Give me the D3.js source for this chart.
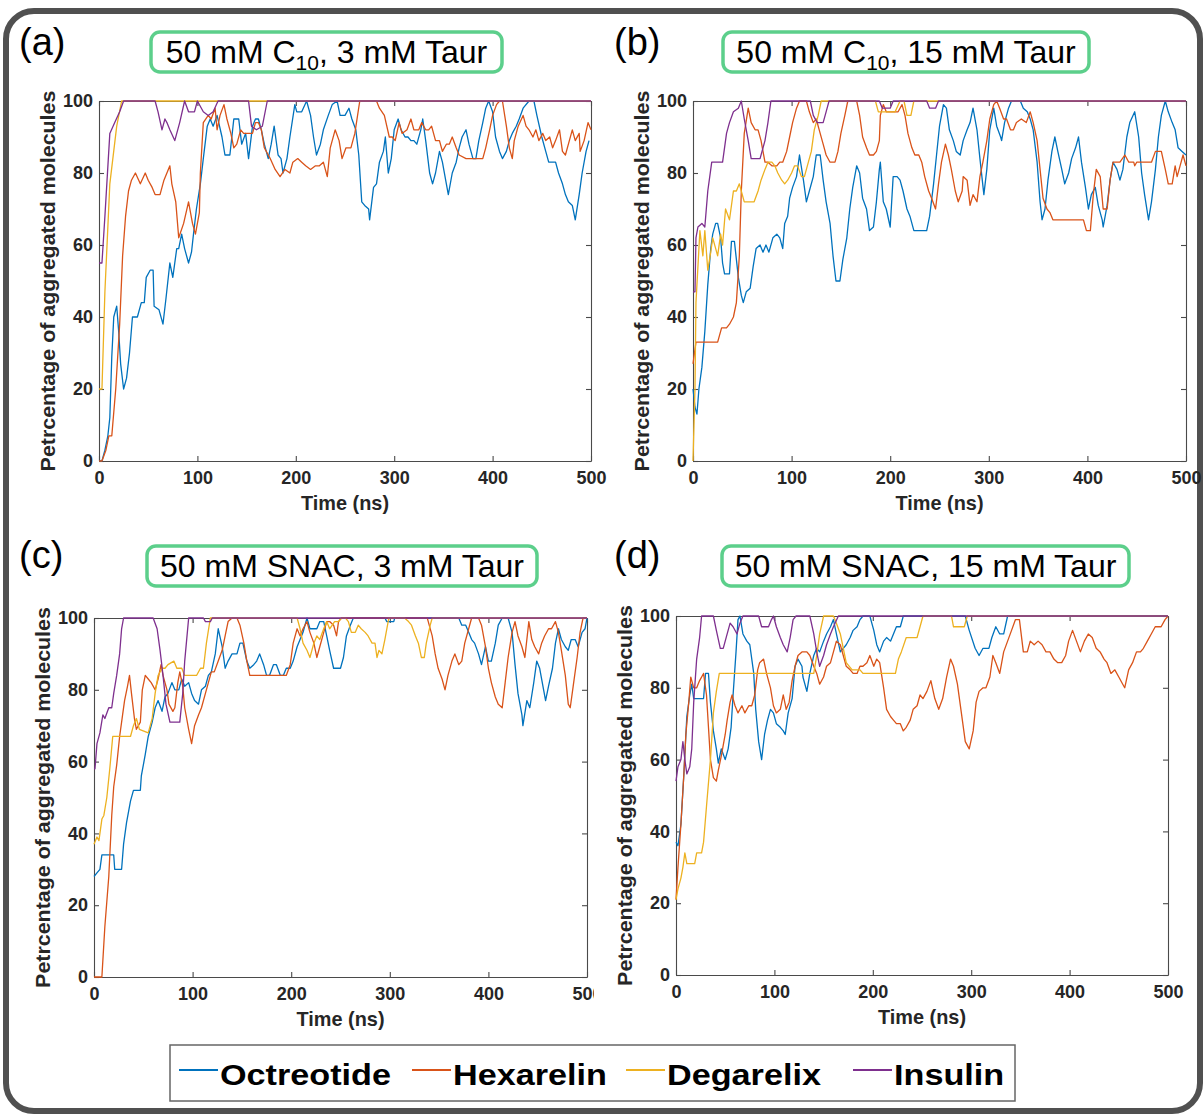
<!DOCTYPE html>
<html>
<head>
<meta charset="utf-8">
<script src="https://cdn.jsdelivr.net/npm/d3@7"></script>
<style>
  body { margin: 0; background: #fff; }
  text { font-family: "Liberation Sans", Arial, Helvetica, sans-serif; }
</style>
</head>
<body>
<svg id="fig" width="1203" height="1115"></svg>
<script>
// series names / colours (MATLAB default order)
var seriesNames = ["Octreotide", "Hexarelin", "Degarelix", "Insulin"];
var seriesColors = ["#0072BD", "#D95319", "#EDB120", "#7E2F8E"];
var xTicks = [0, 100, 200, 300, 400, 500];
var yTicks = [0, 20, 40, 60, 80, 100];
var panelTags = ["(a)", "(b)", "(c)", "(d)"];
var panelTitles = [
    ["50 mM C", "10", ", 3 mM Taur"],
    ["50 mM C", "10", ", 15 mM Taur"],
    ["50 mM SNAC, 3 mM Taur", "", ""],
    ["50 mM SNAC, 15 mM Taur", "", ""]
];
var xLabel = "Time (ns)";
var yLabel = "Petrcentage of aggregated molecules";

// [time (ns), percentage]
var a_oct = [[0,0],[3,0],[6,3],[9,7],[11,12],[13,29],[15,40],[18,43],[20,36],[22,27],[25,20],[28,23],[31,30],[34,40],[39,40],[43,44],[46,44],[48,51],[52,53],[55,53],[56,43],[61,42],[65,38],[68,45],[72,55],[75,51],[79,59],[81,59],[84,63],[87,59],[91,55],[94,58],[96,63],[99,70],[103,77],[106,84],[110,93],[113,95],[116,93],[120,96],[125,90],[128,85],[133,85],[137,95],[142,95],[145,88],[149,91],[152,84],[156,93],[159,95],[162,95],[165,92],[168,88],[172,84],[175,88],[178,93],[182,85],[185,84],[187,80],[191,84],[194,90],[199,99],[201,97],[206,97],[211,100],[215,96],[218,90],[221,85],[225,88],[228,92],[233,96],[237,99],[242,100],[245,96],[250,96],[254,98],[257,95],[261,92],[264,85],[267,72],[270,71],[274,70],[275,67],[279,76],[282,77],[285,83],[289,86],[291,90],[294,80],[297,84],[300,92],[304,95],[307,92],[311,90],[314,90],[317,89],[320,89],[323,88],[327,92],[329,95],[332,89],[336,80],[339,77],[342,80],[346,86],[349,83],[353,77],[355,74],[359,80],[363,83],[366,87],[369,90],[373,92],[376,88],[380,84],[383,84],[386,89],[390,94],[393,98],[396,100],[400,97],[403,90],[407,86],[410,84],[414,86],[417,89],[420,91],[424,93],[427,95],[431,98],[437,100],[442,100],[445,96],[450,90],[454,86],[457,83],[464,83],[467,80],[471,77],[474,74],[477,72],[481,71],[484,67],[488,74],[491,80],[495,86],[498,89]];
var a_hex = [[0,0],[3,0],[7,3],[10,7],[13,7],[17,20],[21,38],[24,57],[27,68],[30,75],[33,78],[37,80],[42,77],[47,80],[50,78],[54,76],[57,74],[62,74],[66,78],[69,80],[72,82],[74,77],[78,72],[81,62],[86,66],[91,72],[95,66],[98,63],[102,69],[103,80],[106,94],[111,96],[114,95],[118,98],[120,92],[123,96],[127,99],[130,95],[134,91],[137,87],[140,88],[144,92],[147,91],[150,91],[156,91],[159,94],[162,94],[165,92],[168,87],[174,84],[179,81],[184,79],[189,81],[194,80],[197,83],[202,84],[206,83],[210,82],[215,81],[220,82],[224,82],[228,83],[232,79],[235,87],[240,92],[244,89],[247,84],[251,87],[256,87],[260,91],[265,100],[282,100],[285,98],[290,96],[295,90],[298,90],[301,89],[305,94],[308,91],[313,92],[317,95],[320,92],[325,92],[328,94],[332,92],[335,92],[338,93],[342,89],[346,89],[349,86],[353,88],[356,88],[359,90],[363,87],[366,85],[373,84],[390,84],[393,87],[397,92],[400,96],[404,99],[407,100],[410,100],[414,93],[417,87],[420,84],[422,89],[426,93],[431,96],[434,93],[437,92],[441,90],[444,92],[447,89],[451,91],[454,89],[458,90],[461,87],[464,89],[468,92],[471,86],[474,85],[478,89],[481,92],[484,89],[488,91],[489,86],[493,89],[497,94],[500,92]];
var a_deg = [[0,20],[3,20],[6,47],[11,77],[18,93],[23,100],[500,100]];
var a_ins = [[0,55],[3,55],[6,68],[11,91],[16,94],[21,97],[25,100],[57,100],[60,97],[64,92],[67,95],[69,94],[72,92],[77,89],[82,94],[87,100],[91,97],[97,97],[100,100],[106,97],[111,96],[116,97],[121,100],[152,100],[155,93],[160,92],[166,93],[171,100],[500,100]];

var b_oct = [[0,20],[2,15],[4,13],[6,20],[9,26],[12,36],[15,49],[18,59],[20,63],[23,66],[25,66],[28,62],[30,55],[32,52],[37,52],[39,61],[42,61],[46,51],[49,46],[51,44],[54,47],[58,48],[61,54],[64,59],[68,60],[71,58],[74,60],[77,58],[81,62],[85,63],[88,62],[91,59],[93,66],[96,68],[98,73],[101,76],[105,79],[108,85],[112,78],[115,72],[118,75],[122,79],[125,85],[129,85],[132,78],[135,72],[139,66],[142,57],[145,50],[149,50],[152,56],[156,62],[159,70],[162,76],[166,82],[169,80],[172,73],[176,70],[179,64],[183,65],[186,72],[189,81],[190,83],[193,72],[196,70],[200,65],[203,79],[207,79],[210,78],[213,75],[217,70],[220,68],[224,64],[237,64],[240,68],[244,77],[247,85],[250,93],[254,99],[257,98],[260,92],[264,89],[267,86],[271,85],[274,89],[278,92],[281,94],[284,98],[288,92],[291,84],[295,74],[298,81],[301,92],[305,98],[308,93],[312,90],[313,89],[316,94],[320,98],[323,100],[332,100],[335,98],[339,97],[342,95],[345,92],[349,83],[352,72],[354,67],[357,70],[360,78],[364,86],[367,90],[370,86],[374,81],[377,77],[381,80],[384,84],[388,87],[391,90],[394,83],[398,76],[401,70],[404,74],[408,76],[411,71],[415,67],[416,65],[420,71],[423,78],[426,83],[430,81],[433,78],[436,81],[440,90],[443,94],[448,97],[452,90],[455,80],[458,74],[462,67],[465,72],[469,81],[472,90],[475,96],[479,100],[482,97],[486,94],[489,92],[492,87],[496,86],[500,85]];
var b_hex = [[0,27],[3,33],[25,33],[29,37],[34,37],[37,38],[41,40],[44,44],[47,57],[49,75],[52,91],[56,98],[59,94],[63,92],[66,92],[69,89],[73,83],[76,83],[80,82],[85,82],[88,83],[91,83],[95,86],[98,90],[101,94],[105,98],[108,100],[115,100],[118,97],[122,94],[125,95],[128,92],[132,88],[135,85],[139,83],[144,83],[147,86],[150,91],[154,96],[157,100],[166,100],[169,96],[172,90],[176,87],[179,85],[183,85],[186,86],[189,89],[190,96],[193,99],[196,97],[201,97],[208,97],[212,99],[215,96],[218,91],[222,87],[225,85],[229,85],[232,83],[235,79],[239,75],[242,73],[246,70],[249,77],[252,83],[256,88],[259,85],[262,81],[266,75],[269,72],[273,75],[274,79],[278,78],[281,71],[284,74],[288,72],[291,79],[294,83],[298,89],[301,95],[305,99],[308,100],[311,98],[315,95],[318,95],[322,92],[325,92],[328,94],[333,95],[338,94],[342,97],[345,94],[349,89],[352,81],[355,73],[359,70],[362,69],[365,67],[396,67],[399,64],[403,64],[406,74],[409,81],[413,79],[416,70],[420,70],[423,78],[426,83],[433,83],[438,85],[442,83],[447,83],[448,82],[450,83],[465,83],[469,86],[475,86],[479,81],[482,77],[486,77],[489,82],[491,79],[494,82],[497,85],[500,82]];
var b_deg = [[0,0],[2,20],[3,44],[7,64],[10,57],[12,64],[15,53],[18,58],[20,62],[23,59],[25,57],[28,63],[30,60],[33,70],[37,67],[41,75],[44,75],[47,77],[52,72],[58,72],[62,72],[66,75],[69,78],[73,81],[76,83],[80,83],[83,82],[86,80],[90,78],[93,77],[96,78],[100,80],[103,82],[106,82],[110,79],[113,79],[117,83],[120,86],[123,92],[127,96],[130,100],[185,100],[188,97],[205,97],[210,100],[214,100],[217,96],[221,96],[224,100],[500,100]];
var b_ins = [[0,47],[2,47],[3,62],[5,65],[9,66],[12,65],[15,75],[19,83],[30,83],[34,91],[37,94],[41,97],[46,98],[49,100],[52,95],[56,89],[59,84],[68,84],[73,89],[76,94],[79,100],[119,100],[122,96],[126,94],[132,94],[135,97],[138,100],[189,100],[192,98],[200,98],[203,100],[237,100],[240,98],[246,98],[249,100],[500,100]];

var c_oct = [[0,28],[3,29],[6,30],[8,34],[20,34],[21,30],[28,30],[30,37],[33,43],[37,49],[40,52],[47,52],[48,56],[52,62],[55,67],[59,71],[62,75],[65,77],[69,74],[72,78],[75,79],[79,82],[82,80],[86,80],[89,83],[92,81],[96,82],[99,79],[102,77],[106,76],[109,80],[113,81],[116,84],[119,85],[123,90],[126,97],[130,92],[133,86],[136,88],[140,90],[145,90],[148,93],[151,93],[155,88],[158,86],[162,87],[165,88],[168,90],[172,87],[175,84],[178,84],[182,87],[185,87],[189,84],[192,84],[195,86],[199,86],[202,88],[206,92],[209,94],[212,96],[216,100],[219,97],[226,97],[229,99],[233,99],[236,95],[239,91],[243,86],[250,86],[253,89],[256,95],[260,98],[263,100],[295,100],[297,99],[304,99],[305,100],[370,100],[373,98],[377,98],[380,96],[383,94],[386,93],[390,90],[393,87],[397,92],[400,88],[403,88],[407,93],[410,98],[414,100],[420,100],[424,96],[427,87],[430,79],[434,73],[435,70],[439,77],[442,75],[446,82],[449,88],[452,86],[456,80],[458,77],[461,81],[465,86],[468,93],[471,97],[474,94],[478,92],[481,91],[484,94],[488,94],[491,92],[495,96],[498,97],[500,100]];
var c_hex = [[0,0],[8,0],[11,14],[15,28],[18,45],[20,53],[23,59],[26,67],[29,73],[31,77],[34,81],[36,84],[38,79],[41,72],[43,69],[47,71],[49,80],[52,84],[55,83],[58,82],[62,80],[65,83],[68,87],[70,84],[74,80],[76,76],[80,74],[82,75],[85,82],[87,85],[90,81],[92,75],[96,69],[99,65],[102,70],[106,73],[109,75],[113,79],[116,82],[119,85],[122,85],[126,88],[130,91],[133,95],[136,99],[140,100],[145,100],[148,98],[152,93],[155,88],[158,84],[195,84],[199,87],[202,93],[206,97],[209,95],[212,97],[216,99],[219,96],[223,93],[226,89],[229,92],[233,96],[236,99],[239,99],[243,98],[246,95],[248,99],[251,100],[338,100],[339,99],[343,95],[346,90],[349,86],[353,83],[356,80],[359,84],[363,88],[366,90],[370,87],[373,88],[376,93],[380,97],[383,100],[390,100],[393,98],[397,92],[400,86],[403,82],[407,78],[410,76],[414,75],[417,82],[420,89],[424,96],[427,99],[430,95],[434,92],[437,89],[441,99],[444,94],[447,92],[451,90],[454,93],[457,95],[461,97],[464,97],[468,99],[471,96],[474,91],[478,84],[481,76],[483,75],[486,81],[490,89],[493,96],[496,100],[500,100]];
var c_deg = [[0,37],[3,39],[5,38],[8,44],[10,45],[13,50],[16,58],[19,67],[37,67],[40,70],[43,72],[46,69],[55,68],[59,72],[62,79],[65,84],[69,86],[72,86],[75,87],[81,88],[84,86],[89,86],[92,84],[104,84],[108,86],[111,86],[114,93],[118,100],[206,100],[209,97],[212,93],[216,91],[219,89],[223,93],[226,95],[229,94],[233,97],[236,99],[239,97],[244,99],[248,99],[251,100],[255,100],[258,99],[261,96],[265,96],[268,98],[271,97],[275,96],[278,95],[282,93],[285,93],[287,89],[289,91],[292,90],[295,94],[299,100],[315,100],[319,99],[322,98],[326,95],[329,93],[332,89],[335,89],[337,93],[341,98],[343,100],[500,100]];
var c_ins = [[0,58],[1,58],[3,65],[6,68],[9,73],[11,72],[15,75],[18,75],[20,79],[23,84],[26,90],[28,97],[30,100],[60,100],[64,97],[67,91],[70,84],[73,76],[77,71],[87,71],[90,79],[92,88],[96,100],[111,100],[113,99],[118,99],[120,100],[500,100]];

var d_oct = [[0,37],[2,36],[5,42],[8,56],[11,72],[14,78],[16,81],[18,77],[28,77],[30,84],[33,84],[35,76],[38,68],[41,63],[43,59],[46,63],[50,60],[53,63],[56,69],[58,78],[61,90],[63,99],[65,100],[68,95],[72,93],[75,92],[79,84],[81,74],[84,65],[87,60],[90,67],[93,71],[96,74],[99,73],[102,70],[106,69],[109,68],[111,67],[114,73],[118,77],[121,86],[124,88],[128,86],[129,83],[133,79],[136,84],[140,89],[143,91],[146,90],[150,93],[153,95],[157,97],[160,99],[163,95],[167,90],[170,91],[173,92],[177,94],[180,96],[184,97],[187,99],[190,100],[197,100],[201,96],[204,92],[207,90],[211,93],[214,94],[218,93],[221,95],[224,97],[228,97],[231,100],[294,100],[298,96],[304,91],[308,89],[312,91],[318,91],[321,94],[325,97],[329,95],[333,95],[337,100],[500,100]];
var d_hex = [[0,21],[2,30],[5,42],[8,56],[10,67],[13,76],[15,83],[18,80],[21,80],[24,82],[28,84],[31,78],[33,69],[35,60],[38,55],[41,54],[43,57],[46,61],[50,67],[52,71],[55,76],[57,78],[60,75],[63,73],[67,75],[70,73],[74,75],[77,75],[80,78],[83,85],[85,87],[89,88],[92,84],[96,80],[99,75],[102,73],[106,74],[109,78],[112,74],[115,76],[118,82],[121,86],[124,89],[128,90],[133,90],[136,89],[140,86],[143,84],[146,81],[150,83],[153,86],[157,87],[160,90],[163,93],[167,92],[170,89],[173,86],[177,85],[180,84],[184,84],[187,86],[190,86],[194,87],[197,89],[201,86],[204,88],[207,87],[211,80],[214,74],[218,72],[221,71],[224,70],[228,70],[231,68],[234,69],[238,71],[241,74],[245,75],[248,78],[251,77],[255,79],[259,82],[263,77],[267,74],[271,77],[275,83],[279,88],[282,86],[286,81],[290,73],[294,65],[298,63],[302,68],[305,76],[308,79],[312,80],[315,80],[319,83],[322,89],[325,87],[329,84],[333,90],[337,93],[341,96],[345,99],[349,99],[353,90],[357,90],[360,93],[364,92],[368,93],[372,92],[376,90],[380,90],[384,88],[388,87],[392,87],[396,89],[399,93],[403,96],[407,93],[411,90],[415,93],[419,95],[423,94],[427,91],[431,90],[435,88],[438,87],[442,84],[446,85],[450,83],[454,81],[456,80],[460,85],[464,87],[468,90],[472,90],[475,91],[479,93],[483,95],[487,97],[493,97],[497,99],[500,100]];
var d_deg = [[0,21],[2,24],[5,27],[7,30],[9,34],[11,31],[19,31],[21,34],[26,34],[28,37],[31,47],[35,60],[38,73],[41,79],[44,84],[140,84],[143,89],[146,95],[150,100],[160,100],[163,98],[167,95],[170,91],[173,87],[179,85],[187,85],[190,84],[223,84],[226,88],[229,90],[234,94],[245,94],[248,97],[251,100],[280,100],[282,97],[293,97],[296,100],[500,100]];
var d_ins = [[0,54],[2,58],[5,60],[7,65],[9,60],[11,56],[14,58],[16,63],[18,76],[21,88],[24,94],[26,100],[38,100],[41,96],[45,91],[48,91],[52,95],[55,98],[58,97],[62,95],[65,98],[68,100],[84,100],[87,97],[94,97],[97,99],[99,100],[102,97],[106,94],[109,92],[113,90],[116,94],[119,99],[122,100],[136,100],[140,95],[143,90],[146,86],[150,89],[153,92],[157,95],[160,97],[165,100],[500,100]];

var panelData = [
    [a_oct, a_hex, a_deg, a_ins],
    [b_oct, b_hex, b_deg, b_ins],
    [c_oct, c_hex, c_deg, c_ins],
    [d_oct, d_hex, d_deg, d_ins]
];

// layout of the four axes and their title boxes (pixels)
var layout = [
    {px: 99,  py: 101, pw: 492, ph: 360, bx: 151, by: 32,  bw: 351, bh: 40, tx: 19,  ty: 55},
    {px: 693, py: 101, pw: 493, ph: 360, bx: 723, by: 32,  bw: 366, bh: 40, tx: 614, ty: 55},
    {px: 94,  py: 618, pw: 493, ph: 359, bx: 147, by: 546, bw: 390, bh: 40, tx: 19,  ty: 568},
    {px: 676, py: 616, pw: 492, ph: 359, bx: 722, by: 546, bw: 407, bh: 40, tx: 614, ty: 568}
];

var svg = d3.select("#fig");
var defs = svg.append("defs");

svg.append("rect")
    .attr("x", 6).attr("y", 11)
    .attr("width", 1194).attr("height", 1100)
    .attr("rx", 28)
    .attr("fill", "#fff")
    .attr("stroke", "#505050")
    .attr("stroke-width", 6);

function stretchText(g, x, y, str, size, weight, sx, anchor) {
    return g.append("text")
        .attr("transform", "translate(" + x + "," + y + ") scale(" + sx + ",1)")
        .attr("font-size", size)
        .attr("font-weight", weight)
        .attr("text-anchor", anchor)
        .attr("fill", "#000")
        .text(str);
}

function styleAxis(sel) {
    sel.attr("font-family", "'Liberation Sans', Arial, sans-serif")
        .attr("font-size", 18)
        .attr("font-weight", "bold");
    sel.selectAll("path").attr("stroke", "#4a4a4a").attr("stroke-width", 1.1);
    sel.selectAll("line").attr("stroke", "#4a4a4a").attr("stroke-width", 1.1);
    sel.selectAll("text").attr("fill", "#262626");
}

layout.forEach(function(p, i) {
    var g = svg.append("g");

    var x = d3.scaleLinear().domain([0, 500]).range([p.px, p.px + p.pw]);
    var y = d3.scaleLinear().domain([0, 100]).range([p.py + p.ph, p.py]);

    // panel tag
    g.append("text")
        .attr("x", p.tx).attr("y", p.ty)
        .attr("font-size", 38)
        .attr("fill", "#000")
        .text(panelTags[i]);

    // title box
    g.append("rect")
        .attr("x", p.bx).attr("y", p.by)
        .attr("width", p.bw).attr("height", p.bh)
        .attr("rx", 9)
        .attr("fill", "#fff")
        .attr("stroke", "#5ccf8b")
        .attr("stroke-width", 3.5);
    var t = g.append("text")
        .attr("x", p.bx + p.bw / 2).attr("y", p.by + 31)
        .attr("text-anchor", "middle")
        .attr("font-size", 32)
        .attr("fill", "#000");
    t.append("tspan").text(panelTitles[i][0]);
    if (panelTitles[i][1]) {
        t.append("tspan").attr("dy", 7).attr("font-size", 21).text(panelTitles[i][1]);
        t.append("tspan").attr("dy", -7).text(panelTitles[i][2]);
    }

    // axes with inward ticks on all four sides
    var gx = g.append("g")
        .attr("transform", "translate(0," + (p.py + p.ph) + ")")
        .call(d3.axisBottom(x).tickValues(xTicks).tickSizeInner(-5).tickSizeOuter(0).tickPadding(10));
    styleAxis(gx);
    if (i == 2) {
        // the right-most tick label of panel (c) is cut off in the figure
        defs.append("clipPath").attr("id", "clipc")
            .append("rect").attr("x", 0).attr("y", -10).attr("width", 594).attr("height", 40);
        gx.attr("clip-path", "url(#clipc)");
    }
    var gt = g.append("g")
        .attr("transform", "translate(0," + p.py + ")")
        .call(d3.axisTop(x).tickValues(xTicks).tickSizeInner(-5).tickSizeOuter(0).tickFormat(""));
    styleAxis(gt);
    var gy = g.append("g")
        .attr("transform", "translate(" + p.px + ",0)")
        .call(d3.axisLeft(y).tickValues(yTicks).tickSizeInner(-5).tickSizeOuter(0).tickPadding(6));
    styleAxis(gy);
    var gr = g.append("g")
        .attr("transform", "translate(" + (p.px + p.pw) + ",0)")
        .call(d3.axisRight(y).tickValues(yTicks).tickSizeInner(-5).tickSizeOuter(0).tickFormat(""));
    styleAxis(gr);

    // axis labels
    stretchText(g, p.px + p.pw / 2, p.py + p.ph + 49, xLabel, 19.5, "bold", 1.02, "middle")
        .attr("fill", "#262626");
    g.append("text")
        .attr("transform", "translate(" + (p.px - 44) + "," + (p.py + p.ph / 2) + ") rotate(-90) scale(1.02,1)")
        .attr("text-anchor", "middle")
        .attr("font-size", 21)
        .attr("font-weight", "bold")
        .attr("fill", "#262626")
        .text(yLabel);

    // data lines
    var line = d3.line()
        .x(function(d) { return x(d[0]); })
        .y(function(d) { return y(d[1]); });
    g.selectAll("path.series")
        .data(panelData[i])
        .enter()
        .append("path")
        .attr("class", "series")
        .attr("d", line)
        .attr("fill", "none")
        .attr("stroke", function(d, k) { return seriesColors[k]; })
        .attr("stroke-width", 1.3)
        .attr("stroke-linejoin", "round");
});

// legend
var legX = [179, 412, 626, 853];
var leg = svg.append("g");
leg.append("rect")
    .attr("x", 170).attr("y", 1045)
    .attr("width", 845).attr("height", 56)
    .attr("fill", "#fff")
    .attr("stroke", "#666")
    .attr("stroke-width", 1.5);
seriesNames.forEach(function(name, k) {
    leg.append("line")
        .attr("x1", legX[k]).attr("x2", legX[k] + 39)
        .attr("y1", 1070).attr("y2", 1070)
        .attr("stroke", seriesColors[k])
        .attr("stroke-width", 2);
    stretchText(leg, legX[k] + 41, 1085, name, 30, "bold", 1.14, "start");
});
</script>
</body>
</html>
